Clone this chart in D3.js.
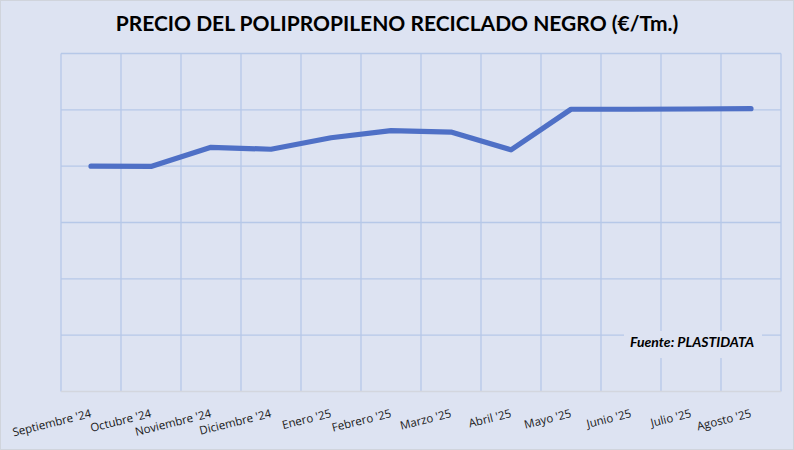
<!DOCTYPE html>
<html><head><meta charset="utf-8">
<script src="https://cdn.jsdelivr.net/npm/d3@7"></script>
<style>body{margin:0;background:#dde3f2;} svg{display:block;}</style>
</head><body>
<svg id="c" width="794" height="450"></svg>
<script>
const title = "PRECIO DEL POLIPROPILENO RECICLADO NEGRO (€/Tm.)";
const source = "Fuente: PLASTIDATA";
const months = ["Septiembre '24","Octubre '24","Noviembre '24","Diciembre '24","Enero '25","Febrero '25","Marzo '25","Abril '25","Mayo '25","Junio '25","Julio '25","Agosto '25"];
const prices = [800, 799, 867, 860, 901, 926, 921, 858, 1002, 1002, 1003, 1004];
const yTicks = [0, 200, 400, 600, 800, 1000, 1200];

const svg = d3.select("#c");
const W = 794, H = 450;
const m = {left: 61, right: 13, top: 53.5, bottom: 58.5};
const iw = W - m.left - m.right, ih = H - m.top - m.bottom;

svg.append("rect").attr("x",0.5).attr("y",0.5).attr("width",W-1).attr("height",H-1)
  .attr("fill","#dde3f2").attr("stroke","#d0d4dc");

svg.append("text").attr("x",397).attr("y",31).attr("text-anchor","middle")
  .attr("font-family","Lato, 'Open Sans', sans-serif").attr("font-weight","bold")
  .attr("font-size",21).attr("fill","#000").text(title);

const g = svg.append("g").attr("transform",`translate(${m.left},${m.top})`);
const x = d3.scaleBand().domain(months).range([0, iw]);
const y = d3.scaleLinear().domain([0, 1200]).range([ih, 0]);

g.selectAll("line.h").data(yTicks.slice(1)).join("line").attr("class","h")
  .attr("x1",0).attr("x2",iw).attr("y1",d=>y(d)).attr("y2",d=>y(d))
  .attr("stroke","#b6c8e8").attr("stroke-width",1.3);
const bounds = months.map(d=>x(d)).concat([iw]);
g.selectAll("line.v").data(bounds).join("line").attr("class","v")
  .attr("x1",d=>d).attr("x2",d=>d).attr("y1",0).attr("y2",ih)
  .attr("stroke","#b6c8e8").attr("stroke-width",1.3);
g.append("line").attr("x1",0).attr("x2",iw).attr("y1",ih).attr("y2",ih)
  .attr("stroke","#d3d6de").attr("stroke-width",1.3);

const xa = g.append("g").attr("transform",`translate(0,${ih})`)
  .call(d3.axisBottom(x).tickSize(0).tickPadding(0));
xa.select(".domain").remove();
xa.selectAll("text")
  .attr("font-family","'Open Sans', Lato, sans-serif").attr("font-size",11.5)
  .attr("fill","#1a1a1a").attr("text-anchor","end")
  .attr("dy",0).attr("y",0).attr("x",0)
  .attr("transform",`translate(1,25.5) rotate(-14)`);

const sb = svg.append("g");
sb.append("rect").attr("x",624).attr("y",331).attr("width",138).attr("height",27).attr("fill","#dde3f2");
sb.append("text").attr("x",754).attr("y",347).attr("text-anchor","end")
  .attr("font-family","Lato, 'Open Sans', sans-serif").attr("font-weight","bold").attr("font-style","italic")
  .attr("font-size",14).attr("fill","#000").text(source);

const line = d3.line().x((d,i)=>x(months[i])+x.bandwidth()/2).y(d=>y(d));
g.append("path").datum(prices).attr("d",line).attr("fill","none")
  .attr("stroke","#4f70c6").attr("stroke-width",5.2)
  .attr("stroke-linecap","round").attr("stroke-linejoin","round");
</script>
</body></html>
